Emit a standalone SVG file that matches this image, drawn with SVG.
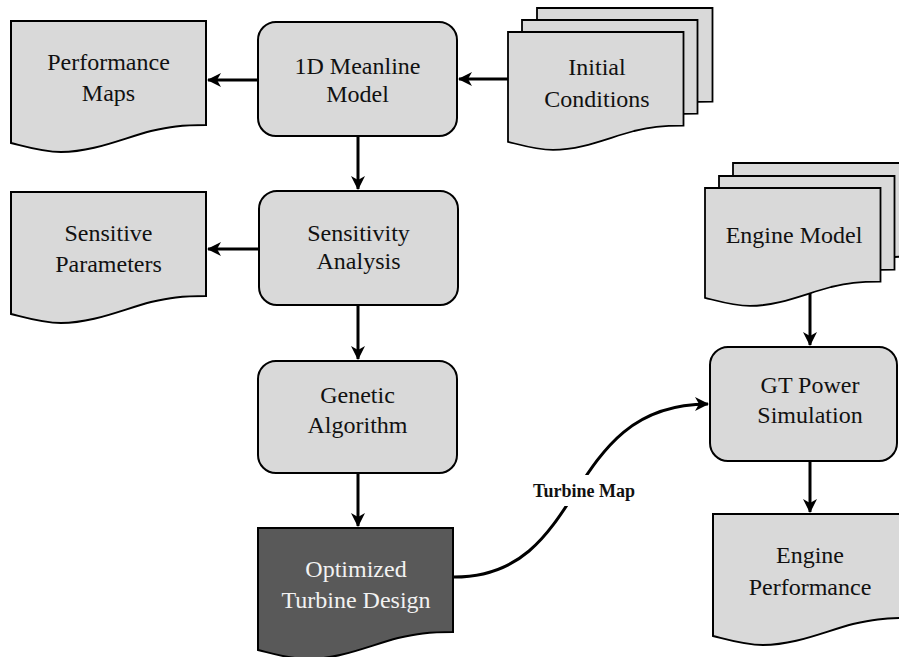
<svg xmlns="http://www.w3.org/2000/svg" xmlns:xlink="http://www.w3.org/1999/xlink" width="899" height="657" viewBox="0 0 899 657">
  <style>
    .proc { fill: #d9d9d9; stroke: #000; stroke-width: 2; }
    .doc { fill: #d9d9d9; stroke: #000; stroke-width: 2; vector-effect: non-scaling-stroke; }
    .doc-dark { fill: #595959; stroke: #000; stroke-width: 2; }
    .label { font-family: "Liberation Serif", "Times New Roman", serif; font-size: 24px; fill: #111; text-anchor: middle; }
    .label-light { fill: #f2f2f2; }
    .edge { fill: none; stroke: #000; stroke-width: 3; marker-end: url(#arrow); }
    .edge-label { font-family: "Liberation Serif", "Times New Roman", serif; font-size: 18px; font-weight: bold; fill: #111; text-anchor: middle; }
  </style>
  <defs>
    <!-- document sheet with a wavy bottom edge, 195 wide -->
    <path id="docShape" d="M0,0 H195 V104 C170,104 158,106 140,110 C110,118 82,131 50,131 C32,131 16,126 0,122 Z"/>
    <marker id="arrow" markerWidth="16" markerHeight="16" viewBox="0 0 16 16" refX="13" refY="8" orient="auto" markerUnits="userSpaceOnUse">
      <path d="M0,1 L14,8 L0,15 L4,8 Z" fill="#000"/>
    </marker>
  </defs>

  <rect width="899" height="657" fill="#fff"/>

  <!-- connectors -->
  <g id="connectors">
    <line class="edge" x1="258" y1="80" x2="208" y2="80"/>
    <line class="edge" x1="508" y1="79" x2="459" y2="79"/>
    <line class="edge" x1="358" y1="136" x2="358" y2="189"/>
    <line class="edge" x1="258" y1="249" x2="208" y2="249"/>
    <line class="edge" x1="358" y1="305" x2="358" y2="359"/>
    <line class="edge" x1="358" y1="473" x2="358" y2="526"/>
    <line class="edge" x1="810" y1="290" x2="810" y2="345"/>
    <line class="edge" x1="810" y1="461" x2="810" y2="512"/>
    <path class="edge" d="M454,577 C590,577 560,404 708,404"/>
    <rect x="530" y="475" width="108" height="31" fill="#fff"/>
    <text class="edge-label" x="584" y="497">Turbine Map</text>
  </g>

  <!-- nodes -->
  <g id="performance-maps">
    <use xlink:href="#docShape" href="#docShape" class="doc" transform="translate(11,21)"/>
    <text class="label" x="108.5" y="70">Performance</text>
    <text class="label" x="108.5" y="101">Maps</text>
  </g>

  <g id="meanline-model">
    <rect class="proc" x="258" y="22" width="199" height="114" rx="18"/>
    <text class="label" x="357.5" y="74">1D Meanline</text>
    <text class="label" x="357.5" y="102">Model</text>
  </g>

  <g id="initial-conditions">
    <use xlink:href="#docShape" href="#docShape" class="doc" transform="translate(537,8) scale(0.9)"/>
    <use xlink:href="#docShape" href="#docShape" class="doc" transform="translate(522,20) scale(0.9)"/>
    <use xlink:href="#docShape" href="#docShape" class="doc" transform="translate(508,32) scale(0.9)"/>
    <text class="label" x="597" y="75">Initial</text>
    <text class="label" x="597" y="107">Conditions</text>
  </g>

  <g id="sensitive-parameters">
    <use xlink:href="#docShape" href="#docShape" class="doc" transform="translate(11,192)"/>
    <text class="label" x="108.5" y="241">Sensitive</text>
    <text class="label" x="108.5" y="272">Parameters</text>
  </g>

  <g id="sensitivity-analysis">
    <rect class="proc" x="259" y="191" width="199" height="114" rx="18"/>
    <text class="label" x="358.5" y="241">Sensitivity</text>
    <text class="label" x="358.5" y="269">Analysis</text>
  </g>

  <g id="genetic-algorithm">
    <rect class="proc" x="258" y="361" width="199" height="112" rx="18"/>
    <text class="label" x="357.5" y="403">Genetic</text>
    <text class="label" x="357.5" y="433">Algorithm</text>
  </g>

  <g id="optimized-turbine-design">
    <use xlink:href="#docShape" href="#docShape" class="doc-dark" transform="translate(258,528)"/>
    <text class="label label-light" x="356" y="577">Optimized</text>
    <text class="label label-light" x="356" y="608">Turbine Design</text>
  </g>

  <g id="engine-model">
    <use xlink:href="#docShape" href="#docShape" class="doc" transform="translate(733,163) scale(0.9)"/>
    <use xlink:href="#docShape" href="#docShape" class="doc" transform="translate(719,176) scale(0.9)"/>
    <use xlink:href="#docShape" href="#docShape" class="doc" transform="translate(705,188) scale(0.9)"/>
    <text class="label" x="794" y="243">Engine Model</text>
  </g>

  <g id="gt-power-simulation">
    <rect class="proc" x="710" y="347" width="187" height="114" rx="18"/>
    <text class="label" x="810" y="393">GT Power</text>
    <text class="label" x="810" y="423">Simulation</text>
  </g>

  <g id="engine-performance">
    <use xlink:href="#docShape" href="#docShape" class="doc" transform="translate(713,514)"/>
    <text class="label" x="810" y="563">Engine</text>
    <text class="label" x="810" y="595">Performance</text>
  </g>
</svg>
